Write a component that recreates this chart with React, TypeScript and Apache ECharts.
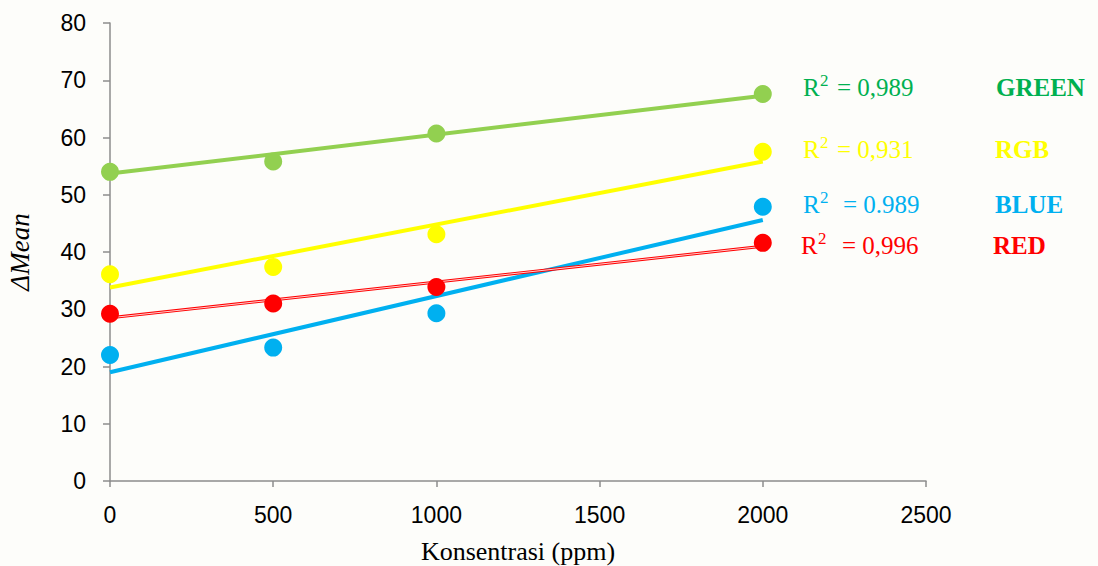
import React, { useEffect, useRef } from "react";
import * as echarts from "echarts";

const concentrations = [0, 500, 1000, 2000];
const greenValues = [54.0, 55.8, 60.7, 67.6];
const rgbValues = [36.1, 37.4, 43.1, 57.5];
const blueValues = [22.0, 23.3, 29.3, 47.9];
const redValues = [29.2, 31.0, 33.9, 41.6];

const trendX = [0, 2000];
const greenTrend = [53.7, 67.3];
const rgbTrend = [33.8, 55.8];
const blueTrend = [19.0, 45.6];
const redTrend = [28.5, 41.0];

const xTicks = { min: 0, max: 2500, interval: 500 };
const yTicks = { min: 0, max: 80, interval: 10 };

const annotations = [
  { r2: "0,989", label: "GREEN", color: "#00b050", baseline: 95, rx: 803, eqx: 837, lx: 996 },
  { r2: "0,931", label: "RGB", color: "#ffff00", baseline: 157, rx: 803, eqx: 837, lx: 995 },
  { r2: "0.989", label: "BLUE", color: "#00b0f0", baseline: 212, rx: 803, eqx: 843, lx: 995 },
  { r2: "0,996", label: "RED", color: "#ff0000", baseline: 253, rx: 801, eqx: 842, lx: 993 },
];

const pair = (xs: number[], ys: number[]) => xs.map((x, i) => [x, ys[i]]);

export default function App() {
  const ref = useRef<HTMLDivElement>(null);
  useEffect(() => {
    if (!ref.current) return;
    const chart = echarts.init(ref.current, null, { renderer: "svg" });
    const serif = "'Liberation Serif', 'Times New Roman', serif";
    const sans = "'Liberation Sans', Arial, sans-serif";
    const scatter = (name: string, ys: number[], color: string) => ({
      name,
      type: "scatter",
      data: pair(concentrations, ys),
      symbol: "circle",
      symbolSize: 18,
      itemStyle: { color, opacity: 1 },
      z: 5,
    });
    const trend = (name: string, ys: number[], color: string, width: number) => ({
      name,
      type: "line",
      data: pair(trendX, ys),
      showSymbol: false,
      symbol: "none",
      lineStyle: { color, width },
      z: 3,
    });
    const graphics: any[] = [];
    annotations.forEach((a) => {
      const fs = 25;
      const y = a.baseline - 8;
      graphics.push({
        type: "text",
        x: a.rx,
        y,
        style: { text: "R", font: `${fs}px ${serif}`, fill: a.color, verticalAlign: "middle", align: "left" },
      });
      graphics.push({
        type: "text",
        x: a.rx + 17,
        y: a.baseline - 15,
        style: { text: "2", font: `17px ${serif}`, fill: a.color, verticalAlign: "middle", align: "left" },
      });
      graphics.push({
        type: "text",
        x: a.eqx,
        y,
        style: { text: "= " + a.r2, font: `${fs}px ${serif}`, fill: a.color, verticalAlign: "middle", align: "left" },
      });
      graphics.push({
        type: "text",
        x: a.lx,
        y,
        style: { text: a.label, font: `bold ${fs}px ${serif}`, fill: a.color, verticalAlign: "middle", align: "left" },
      });
    });
    chart.setOption({
      animation: false,
      backgroundColor: "#fdfdfa",
      grid: { left: 110, right: 172, top: 23, bottom: 85, containLabel: false, outerBoundsMode: "none" },
      xAxis: {
        type: "value",
        ...xTicks,
        name: "Konsentrasi (ppm)",
        nameLocation: "middle",
        nameGap: 57,
        nameTextStyle: { fontFamily: serif, fontSize: 26, color: "#000", lineHeight: 26 },
        axisLine: { show: true, onZero: false, lineStyle: { color: "#8c8c8c", width: 1.5 } },
        axisTick: { show: true, length: 6, lineStyle: { color: "#8c8c8c", width: 1.5 } },
        axisLabel: {
          fontFamily: sans,
          fontSize: 23,
          color: "#000",
          margin: 22,
          formatter: (v: number) => String(v),
        },
        splitLine: { show: false },
      },
      yAxis: {
        type: "value",
        ...yTicks,
        name: "ΔMean",
        nameLocation: "middle",
        nameRotate: 90,
        nameGap: 77,
        nameTextStyle: { fontFamily: serif, fontSize: 27, fontStyle: "italic", color: "#000" },
        axisLine: { show: true, lineStyle: { color: "#8c8c8c", width: 1.5 } },
        axisTick: { show: true, length: 7, lineStyle: { color: "#8c8c8c", width: 1.5 } },
        axisLabel: { fontFamily: sans, fontSize: 23, color: "#000", margin: 24 },
        splitLine: { show: false },
      },
      series: [
        trend("GREEN trend", greenTrend, "#92d050", 4),
        trend("RGB trend", rgbTrend, "#ffff00", 4),
        trend("BLUE trend", blueTrend, "#00b0f0", 4),
        trend("RED trend", redTrend, "#ff0000", 3),
        { ...trend("RED trend inner", redTrend, "#ffd0d0", 1), z: 4 },
        scatter("GREEN", greenValues, "#92d050"),
        scatter("RGB", rgbValues, "#ffff00"),
        scatter("BLUE", blueValues, "#00b0f0"),
        scatter("RED", redValues, "#ff0000"),
      ],
      graphic: graphics,
    });
    return () => chart.dispose();
  }, []);
  return (
    <div
      ref={ref}
      style={{ position: "fixed", left: 0, top: 0, width: 1098, height: 566 }}
    />
  );
}
